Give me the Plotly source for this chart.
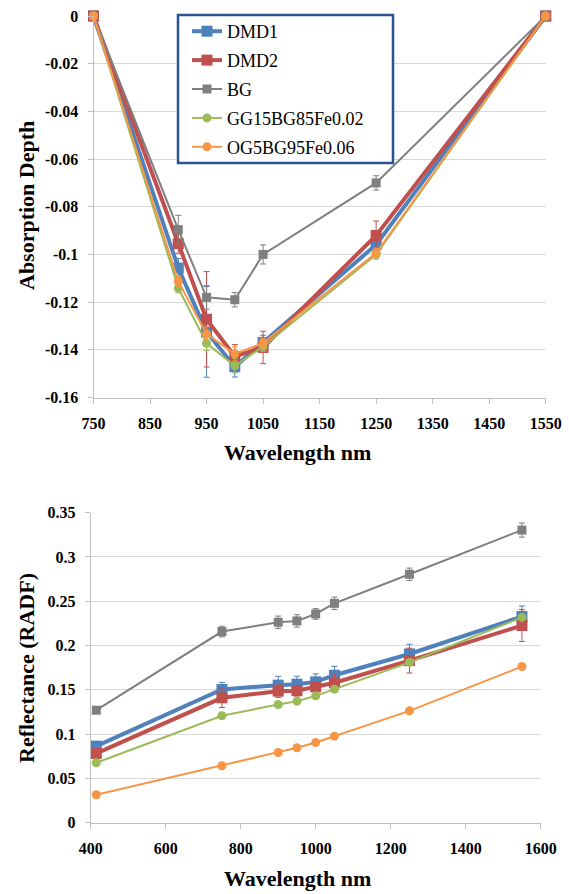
import plotly.graph_objects as go

# ---- Data: top panel (absorption depth) ----
wl_abs = [750, 900, 950, 1000, 1050, 1250, 1550]
abs_dmd1 = [0, -0.1057, -0.1325, -0.1471, -0.1369, -0.0959, 0]
abs_dmd2 = [0, -0.0955, -0.1272, -0.1428, -0.1390, -0.0920, 0]
abs_bg = [0, -0.0896, -0.1180, -0.1190, -0.1000, -0.0700, 0]
abs_gg = [0, -0.1141, -0.1373, -0.1467, -0.1386, -0.1000, 0]
abs_og = [0, -0.1113, -0.1334, -0.1417, -0.1372, -0.0994, 0]
err_abs_dmd1 = [0, 0.004, 0.019, 0.0043, 0.003, 0.003, 0]
err_abs_dmd2 = [0, 0.004, 0.020, 0.005, 0.0068, 0.006, 0]
err_abs_bg = [0, 0.006, 0.005, 0.003, 0.004, 0.003, 0]
err_abs_gg = [0, 0.002, 0.003, 0.003, 0.002, 0.002, 0]
err_abs_og = [0, 0.002, 0.003, 0.003, 0.002, 0.002, 0]

# ---- Data: bottom panel (reflectance) ----
wl_ref = [415, 750, 900, 950, 1000, 1050, 1250, 1550]
ref_dmd1 = [0.0865, 0.1504, 0.1553, 0.1564, 0.1590, 0.1665, 0.1905, 0.2327]
ref_dmd2 = [0.0782, 0.1410, 0.1485, 0.1490, 0.1534, 0.1580, 0.1830, 0.2226]
ref_bg = [0.1270, 0.2158, 0.2263, 0.2278, 0.2357, 0.2477, 0.2805, 0.3304]
ref_gg = [0.0677, 0.1207, 0.1335, 0.1372, 0.1432, 0.1508, 0.1810, 0.2318]
ref_og = [0.0316, 0.0643, 0.0793, 0.0846, 0.0906, 0.0977, 0.1263, 0.1763]
err_ref_dmd1 = [0.003, 0.008, 0.010, 0.009, 0.009, 0.010, 0.011, 0.012]
err_ref_dmd2 = [0.003, 0.011, 0.007, 0.006, 0.006, 0.010, 0.014, 0.018]
err_ref_bg = [0.002, 0.006, 0.007, 0.007, 0.006, 0.007, 0.007, 0.008]
err_ref_gg = [0.001, 0.002, 0.002, 0.002, 0.002, 0.002, 0.003, 0.003]
err_ref_og = [0.001, 0.001, 0.001, 0.001, 0.001, 0.001, 0.001, 0.001]

names = ["DMD1", "DMD2", "BG", "GG15BG85Fe0.02", "OG5BG95Fe0.06"]
colors = ["#4F81BD", "#C0504D", "#7F7F7F", "#9BBB59", "#F79646"]
symbols = ["square", "square", "square", "circle", "circle"]
msizes = [11, 11, 9, 9, 9]
lwidths = [4, 4, 2, 2, 2]

abs_series = [abs_dmd1, abs_dmd2, abs_bg, abs_gg, abs_og]
abs_errs = [err_abs_dmd1, err_abs_dmd2, err_abs_bg, err_abs_gg, err_abs_og]
ref_series = [ref_dmd1, ref_dmd2, ref_bg, ref_gg, ref_og]
ref_errs = [err_ref_dmd1, err_ref_dmd2, err_ref_bg, err_ref_gg, err_ref_og]

abs_yticks = [0, -0.02, -0.04, -0.06, -0.08, -0.1, -0.12, -0.14, -0.16]
abs_ytext = ["0", "-0.02", "-0.04", "-0.06", "-0.08", "-0.1", "-0.12", "-0.14", "-0.16"]
abs_xticks = [750, 850, 950, 1050, 1150, 1250, 1350, 1450, 1550]
ref_yticks = [0, 0.05, 0.1, 0.15, 0.2, 0.25, 0.3, 0.35]
ref_ytext = ["0", "0.05", "0.1", "0.15", "0.2", "0.25", "0.3", "0.35"]
ref_xticks = [400, 600, 800, 1000, 1200, 1400, 1600]

W, H = 569, 894

fig = go.Figure()
for i in range(5):
    fig.add_trace(go.Scatter(
        x=wl_abs, y=abs_series[i], name=names[i], mode="lines+markers",
        line=dict(color=colors[i], width=lwidths[i]),
        marker=dict(symbol=symbols[i], size=msizes[i], color=colors[i]),
        error_y=dict(type="data", array=abs_errs[i], color=colors[i], thickness=1, width=3),
        cliponaxis=False, xaxis="x", yaxis="y", legendgroup=names[i],
    ))
for i in range(5):
    fig.add_trace(go.Scatter(
        x=wl_ref, y=ref_series[i], name=names[i], mode="lines+markers",
        line=dict(color=colors[i], width=lwidths[i]),
        marker=dict(symbol=symbols[i], size=msizes[i], color=colors[i]),
        error_y=dict(type="data", array=ref_errs[i], color=colors[i], thickness=1, width=3),
        cliponaxis=False, xaxis="x2", yaxis="y2", showlegend=False,
    ))

serif = "Liberation Serif, Times New Roman, serif"
tickfont = dict(family=serif, size=16, color="black")
titlefont = dict(family=serif, size=22, color="black")
common = dict(showline=True, linecolor="#BFBFBF", linewidth=1, ticks="outside",
              tickcolor="#BFBFBF", ticklen=5, tickfont=tickfont, zeroline=False,
              automargin=False, ticklabelstandoff=6)

def bold(lst):
    return ["<b>%s</b>" % s for s in lst]

fig.update_layout(
    template="none",
    width=W, height=H, margin=dict(l=0, r=0, t=0, b=0, pad=0, autoexpand=False),
    paper_bgcolor="white", plot_bgcolor="white",
    font=dict(family=serif),
    xaxis=dict(domain=[93.5 / W, 545.7 / W], range=[750, 1550], tickvals=abs_xticks,
               ticktext=bold([str(v) for v in abs_xticks]), showgrid=False, anchor="y", **common),
    yaxis=dict(domain=[1 - 397.5 / H, 1 - 16 / H], range=[-0.16, 0], tickvals=abs_yticks,
               ticktext=bold(abs_ytext), showgrid=True, gridcolor="#D9D9D9", gridwidth=1,
               anchor="x", **common),
    xaxis2=dict(domain=[90.7 / W, 540.7 / W], range=[400, 1600], tickvals=ref_xticks,
                ticktext=bold([str(v) for v in ref_xticks]), showgrid=False, anchor="y2", **common),
    yaxis2=dict(domain=[1 - 822.7 / H, 1 - 512.7 / H], range=[0, 0.35], tickvals=ref_yticks,
                ticktext=bold(ref_ytext), showgrid=True, gridcolor="#D9D9D9", gridwidth=1,
                anchor="x2", **common),
    legend=dict(x=187 / W, y=1 - 13 / H, xanchor="left", yanchor="top",
                bgcolor="rgba(0,0,0,0)", borderwidth=0,
                font=dict(family=serif, size=18, color="black"),
                traceorder="grouped", tracegroupgap=2.5, itemwidth=30),
    showlegend=True,
    shapes=[dict(type="rect", xref="paper", yref="paper",
                 x0=178 / W, x1=393 / W, y0=1 - 163 / H, y1=1 - 15 / H,
                 line=dict(color="#2A5490", width=2.5), fillcolor="white", layer="above")],
    annotations=[
        dict(text="<b>Absorption Depth</b>", xref="paper", yref="paper", x=26 / W, y=1 - 206 / H,
             textangle=-90, showarrow=False, font=titlefont, xanchor="center", yanchor="middle"),
        dict(text="<b>Wavelength nm</b>", xref="paper", yref="paper", x=297 / W, y=1 - 452 / H,
             showarrow=False, font=titlefont, xanchor="center", yanchor="middle"),
        dict(text="<b>Reflectance (RADF)</b>", xref="paper", yref="paper", x=26 / W, y=1 - 668 / H,
             textangle=-90, showarrow=False, font=titlefont, xanchor="center", yanchor="middle"),
        dict(text="<b>Wavelength nm</b>", xref="paper", yref="paper", x=297 / W, y=1 - 878 / H,
             showarrow=False, font=titlefont, xanchor="center", yanchor="middle"),
    ],
)

fig.write_html("out.html", config={"displayModeBar": False},
               post_script="document.body.style.margin='0';document.body.style.padding='0';"
                           "document.body.style.overflow='hidden';")
